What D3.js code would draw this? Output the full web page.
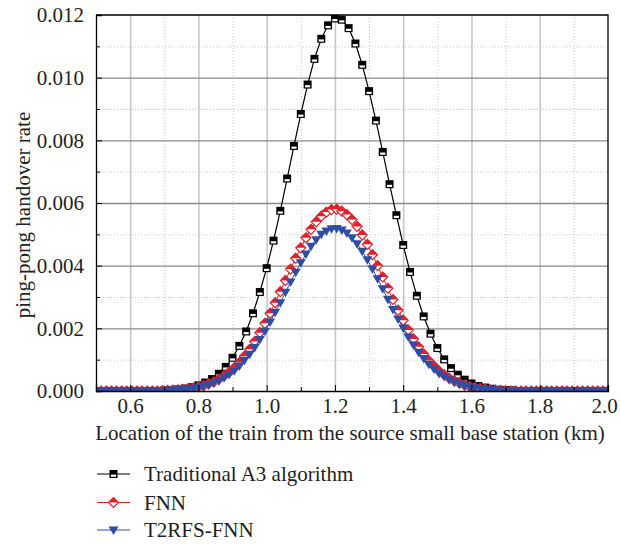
<!DOCTYPE html>
<html>
<head>
<meta charset="utf-8">
<script src="https://cdn.jsdelivr.net/npm/d3@7"></script>
<style>
  body { margin: 0; background: #fff; }
  text { font-family: "Liberation Serif", "DejaVu Serif", serif; fill: #231f20; }
</style>
</head>
<body>
<script>
// Traditional A3 algorithm, sampled every 0.02 km
var locA3 = [0.50,0.52,0.54,0.56,0.58,0.60,0.62,0.64,0.66,0.68,
  0.70,0.72,0.74,0.76,0.78,0.80,0.82,0.84,0.86,0.88,
  0.90,0.92,0.94,0.96,0.98,1.00,1.02,1.04,1.06,1.08,
  1.10,1.12,1.14,1.16,1.18,1.20,1.22,1.24,1.26,1.28,
  1.30,1.32,1.34,1.36,1.38,1.40,1.42,1.44,1.46,1.48,
  1.50,1.52,1.54,1.56,1.58,1.60,1.62,1.64,1.66,1.68,
  1.70,1.72,1.74,1.76,1.78,1.80,1.82,1.84,1.86,1.88,
  1.90,1.92,1.94,1.96,1.98,2.00];
var rateA3 = [0,0,0,0,0,0,0,0,0,0,
  0.00002,0.00003,0.00005,0.00008,0.00012,0.00018,0.00027,0.00038,0.00055,0.00077,
  0.00106,0.00144,0.00190,0.00248,0.00316,0.00392,0.00480,0.00575,0.00678,0.00782,
  0.00884,0.00978,0.01060,0.01124,0.01167,0.01189,0.01185,0.01158,0.01109,0.01041,
  0.00957,0.00863,0.00763,0.00660,0.00561,0.00466,0.00380,0.00304,0.00238,0.00183,
  0.00137,0.00101,0.00073,0.00052,0.00036,0.00024,0.00016,0.00011,0.00007,0.00004,
  0.00003,0.00002,0,0,0,0,0,0,0,0,
  0,0,0,0,0,0];

// FNN and T2RFS-FNN, sampled every 0.015 km
var locFnn = [0.500,0.515,0.530,0.545,0.560,0.575,0.590,0.605,0.620,0.635,
  0.650,0.665,0.680,0.695,0.710,0.725,0.740,0.755,0.770,0.785,
  0.800,0.815,0.830,0.845,0.860,0.875,0.890,0.905,0.920,0.935,
  0.950,0.965,0.980,0.995,1.010,1.025,1.040,1.055,1.070,1.085,
  1.100,1.115,1.130,1.145,1.160,1.175,1.190,1.205,1.220,1.235,
  1.250,1.265,1.280,1.295,1.310,1.325,1.340,1.355,1.370,1.385,
  1.400,1.415,1.430,1.445,1.460,1.475,1.490,1.505,1.520,1.535,
  1.550,1.565,1.580,1.595,1.610,1.625,1.640,1.655,1.670,1.685,
  1.700,1.715,1.730,1.745,1.760,1.775,1.790,1.805,1.820,1.835,
  1.850,1.865,1.880,1.895,1.910,1.925,1.940,1.955,1.970,1.985,
  2.000];
var rateFnn = [0,0,0,0,0,0,0,0,0,0,
  0,0,0,0.00001,0.00002,0.00003,0.00004,0.00005,0.00007,0.00010,
  0.00013,0.00017,0.00023,0.00029,0.00038,0.00048,0.00060,0.00074,0.00091,0.00111,
  0.00133,0.00158,0.00186,0.00216,0.00248,0.00282,0.00317,0.00353,0.00389,0.00424,
  0.00457,0.00489,0.00516,0.00540,0.00558,0.00571,0.00579,0.00580,0.00574,0.00563,
  0.00547,0.00525,0.00498,0.00468,0.00435,0.00400,0.00364,0.00328,0.00292,0.00258,
  0.00226,0.00195,0.00166,0.00141,0.00118,0.00097,0.00080,0.00064,0.00052,0.00041,
  0.00032,0.00025,0.00019,0.00014,0.00011,0.00008,0.00006,0.00004,0.00003,0.00002,
  0.00001,0,0,0,0,0,0,0,0,0,
  0,0,0,0,0,0,0,0,0,0,
  0];
var rateT2 = [0,0,0,0,0,0,0,0,0,0,
  0,0,0,0.00001,0.00002,0.00003,0.00004,0.00004,0.00006,0.00009,
  0.00011,0.00015,0.00020,0.00026,0.00033,0.00042,0.00053,0.00065,0.00080,0.00098,
  0.00117,0.00139,0.00164,0.00191,0.00220,0.00251,0.00282,0.00315,0.00348,0.00379,
  0.00409,0.00437,0.00462,0.00483,0.00500,0.00511,0.00518,0.00519,0.00514,0.00504,
  0.00489,0.00470,0.00446,0.00419,0.00389,0.00358,0.00326,0.00293,0.00260,0.00230,
  0.00201,0.00172,0.00147,0.00124,0.00104,0.00085,0.00070,0.00056,0.00046,0.00036,
  0.00028,0.00022,0.00017,0.00012,0.00010,0.00007,0.00005,0.00004,0.00003,0.00002,
  0.00001,0,0,0,0,0,0,0,0,0,
  0,0,0,0,0,0,0,0,0,0,
  0];

var xTicks = [0.6,0.8,1.0,1.2,1.4,1.6,1.8,2.0];
var xMinor = [0.7,0.9,1.1,1.3,1.5,1.7,1.9];
var yTicks = [0,0.002,0.004,0.006,0.008,0.010,0.012];
var yMinor = [0.001,0.003,0.005,0.007,0.009,0.011];
var seriesNames = ["Traditional A3 algorithm","FNN","T2RFS-FNN"];

const w = 620, h = 544,
      pLeft = 96, pRight = 608, pTop = 15, pBottom = 391,
      fontSize = 21;

const xScale = d3.scaleLinear().domain([0.5, 2.0]).range([pLeft, pRight]);
const yScale = d3.scaleLinear().domain([0, 0.012]).range([pBottom, pTop]);

const svg = d3.select("body").append("svg")
    .attr("width", w)
    .attr("height", h);

svg.append("defs").append("clipPath").attr("id", "plot")
    .append("rect")
    .attr("x", pLeft).attr("y", pTop)
    .attr("width", pRight - pLeft).attr("height", pBottom - pTop);

// grid
svg.append("g")
    .attr("transform", "translate(0," + pBottom + ")")
    .call(d3.axisBottom(xScale).tickValues(xMinor).tickSize(-(pBottom - pTop)).tickFormat(""))
    .call(g => g.select(".domain").remove())
    .selectAll("line").attr("stroke", "#c8c8c8").attr("stroke-dasharray", "1,2");
svg.append("g")
    .attr("transform", "translate(" + pLeft + ",0)")
    .call(d3.axisLeft(yScale).tickValues(yMinor).tickSize(-(pRight - pLeft)).tickFormat(""))
    .call(g => g.select(".domain").remove())
    .selectAll("line").attr("stroke", "#c8c8c8").attr("stroke-dasharray", "1,2");
svg.append("g")
    .attr("transform", "translate(0," + pBottom + ")")
    .call(d3.axisBottom(xScale).tickValues(xTicks.slice(0, -1)).tickSize(-(pBottom - pTop)).tickFormat(""))
    .call(g => g.select(".domain").remove())
    .selectAll("line").attr("stroke", "#c4c4c4").attr("stroke-width", 1.5);
svg.append("g")
    .attr("transform", "translate(" + pLeft + ",0)")
    .call(d3.axisLeft(yScale).tickValues(yTicks.slice(1, -1)).tickSize(-(pRight - pLeft)).tickFormat(""))
    .call(g => g.select(".domain").remove())
    .selectAll("line").attr("stroke", "#8a8a8a").attr("stroke-width", 1.3);

// series
const plot = svg.append("g").attr("clip-path", "url(#plot)");
const line = (xs) => d3.line().x((d, i) => xScale(xs[i])).y(d => yScale(d));

function drawSquare(g) {
    g.append("rect").attr("x", -4).attr("y", -4).attr("width", 8).attr("height", 8).attr("fill", "#000");
    g.append("rect").attr("x", -2.6).attr("y", 0.6).attr("width", 5.2).attr("height", 2.2).attr("fill", "#fff");
}
function drawDiamond(g) {
    g.append("path").attr("d", "M0,-5L5,0L0,5L-5,0Z").attr("fill", "#fff").attr("stroke", "#e0202a").attr("stroke-width", 1.2);
    g.append("path").attr("d", "M0,-5L5,0L-5,0Z").attr("fill", "#e0202a");
}
function drawTriangle(g) {
    g.append("path").attr("d", "M-5,-3.5L5,-3.5L0,5Z").attr("fill", "#2f4da3");
}

plot.append("path").datum(rateA3)
    .attr("d", line(locA3)).attr("fill", "none").attr("stroke", "#000").attr("stroke-width", 1.2);
plot.selectAll(".sq").data(rateA3).enter().append("g")
    .attr("class", "sq")
    .attr("transform", (d, i) => "translate(" + xScale(locA3[i]) + "," + yScale(d) + ")")
    .call(drawSquare);

plot.append("path").datum(rateFnn)
    .attr("d", line(locFnn)).attr("fill", "none").attr("stroke", "#e0202a").attr("stroke-width", 1);
plot.selectAll(".dm").data(rateFnn).enter().append("g")
    .attr("class", "dm")
    .attr("transform", (d, i) => "translate(" + xScale(locFnn[i]) + "," + yScale(d) + ")")
    .call(drawDiamond);

plot.append("path").datum(rateT2)
    .attr("d", line(locFnn)).attr("fill", "none").attr("stroke", "#2f4da3").attr("stroke-width", 1);
plot.selectAll(".tr").data(rateT2).enter().append("g")
    .attr("class", "tr")
    .attr("transform", (d, i) => "translate(" + xScale(locFnn[i]) + "," + yScale(d) + ")")
    .call(drawTriangle);

// axes
const xAxis = svg.append("g")
    .attr("transform", "translate(0," + pBottom + ")")
    .call(d3.axisBottom(xScale).tickValues(xTicks).tickSize(-6).tickPadding(7).tickFormat(d3.format(".1f")));
svg.append("g")
    .attr("transform", "translate(0," + pBottom + ")")
    .call(d3.axisBottom(xScale).tickValues(xMinor).tickSize(-4).tickFormat(""))
    .call(g => g.select(".domain").remove());
svg.append("g")
    .attr("transform", "translate(" + pLeft + ",0)")
    .call(d3.axisLeft(yScale).tickValues(yTicks).tickSize(-6).tickPadding(12).tickFormat(d3.format(".3f")));
svg.append("g")
    .attr("transform", "translate(" + pLeft + ",0)")
    .call(d3.axisLeft(yScale).tickValues(yMinor).tickSize(-4).tickFormat(""))
    .call(g => g.select(".domain").remove());

svg.selectAll(".tick text")
    .attr("font-size", fontSize)
    .attr("font-family", "Liberation Serif, DejaVu Serif, serif")
    .attr("fill", "#231f20");
// keep the last x label inside the window
xAxis.selectAll(".tick text").filter(d => d === 2.0).attr("dx", -4);
svg.selectAll(".domain").attr("stroke", "#000").attr("stroke-width", 1.3);

// frame top and right
svg.append("path")
    .attr("d", "M" + pLeft + "," + pTop + "H" + pRight + "V" + pBottom)
    .attr("fill", "none").attr("stroke", "#000").attr("stroke-width", 1.3);

// titles
svg.append("text")
    .text("Location of the train from the source small base station (km)")
    .attr("x", 350)
    .attr("y", 440)
    .attr("text-anchor", "middle")
    .attr("font-size", fontSize);

svg.append("text")
    .text("ping-pong handover rate")
    .attr("text-anchor", "middle")
    .attr("font-size", fontSize)
    .attr("transform", "translate(29.5,215)rotate(-90)");

// legend
const legend = svg.append("g");
const legendRows = [474, 502.5, 530];
const legendColors = ["#000", "#e0202a", "#2f4da3"];
const legendDraw = [drawSquare, drawDiamond, drawTriangle];
seriesNames.forEach((name, i) => {
    const row = legend.append("g").attr("transform", "translate(0," + legendRows[i] + ")");
    row.append("line").attr("x1", 97).attr("x2", 130)
        .attr("stroke", legendColors[i]).attr("stroke-width", 1.2);
    row.append("g").attr("transform", "translate(113.5,0)").call(legendDraw[i]);
    row.append("text").text(name)
        .attr("x", 144).attr("y", 7)
        .attr("font-size", fontSize);
});
</script>
</body>
</html>
